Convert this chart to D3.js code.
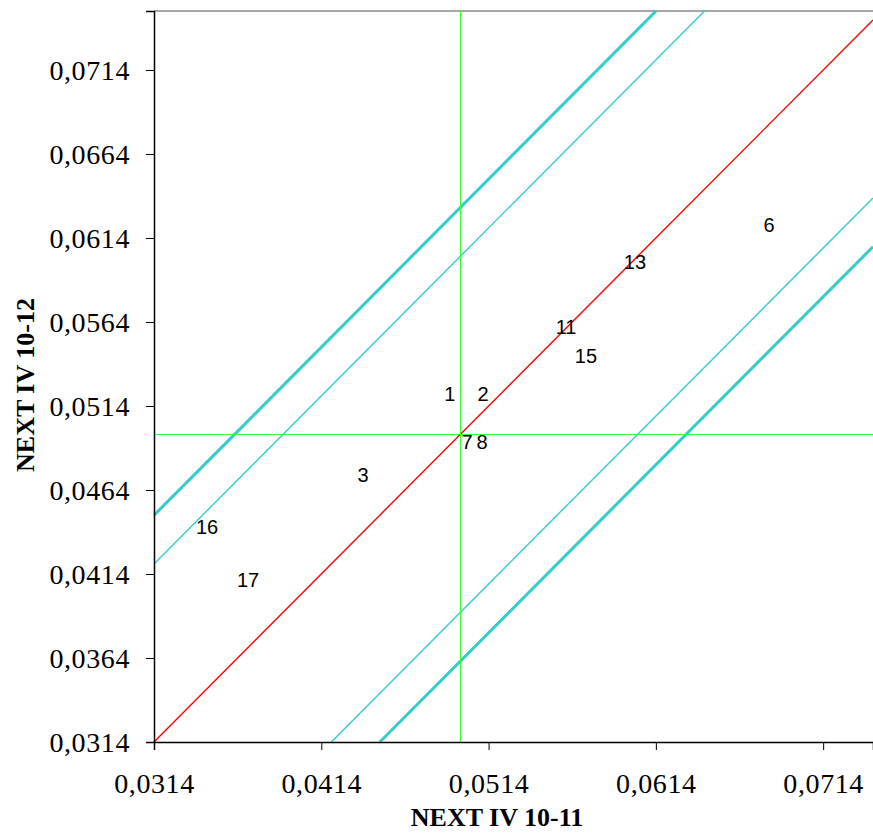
<!DOCTYPE html>
<html>
<head>
<meta charset="utf-8">
<script src="https://cdn.jsdelivr.net/npm/d3@7"></script>
<style>
  body { margin: 0; background: #fff; }
  svg { display: block; }
</style>
</head>
<body>
<div id="chart"></div>
<script>
const labels = ["1", "2", "3", "6", "7", "8", "11", "13", "15", "16", "17"];
const xValues = [0.04909, 0.05107, 0.04389, 0.06816, 0.05011, 0.05101, 0.05603, 0.06015, 0.05722, 0.03457, 0.03702];
const yValues = [0.05211, 0.05211, 0.04729, 0.06217, 0.04926, 0.04926, 0.05610, 0.05997, 0.05438, 0.04420, 0.04104];
const xTicks = [0.0314, 0.0414, 0.0514, 0.0614, 0.0714];
const yTicks = [0.0314, 0.0364, 0.0414, 0.0464, 0.0514, 0.0564, 0.0614, 0.0664, 0.0714];
const meanX = 0.04970;
const meanY = 0.04972;
// band offsets around y = x
const innerOffset = 0.0106;
const outerOffset = 0.0135;

const width = 873, height = 834;
const margin = { top: 11, right: 0, bottom: 92, left: 154 };
const innerWidth = width - margin.left - margin.right;
const innerHeight = height - margin.top - margin.bottom;

const xDomain = [0.0314, 0.07438];
const yDomain = [0.0314, 0.07491];

const svg = d3.select("#chart")
  .append("svg")
  .attr("width", width)
  .attr("height", height);

const xScale = d3.scaleLinear()
  .domain(xDomain)
  .range([margin.left, margin.left + innerWidth]);

const yScale = d3.scaleLinear()
  .domain(yDomain)
  .range([margin.top + innerHeight, margin.top]);

// top border
svg.append("line")
  .attr("x1", margin.left).attr("x2", width)
  .attr("y1", margin.top).attr("y2", margin.top)
  .attr("stroke", "#888").attr("stroke-width", 1.5);

const diagLines = [
  { off: 0, color: "#ff0000", w: 1.4 },
  { off: innerOffset, color: "#33cccc", w: 1.4 },
  { off: -innerOffset, color: "#33cccc", w: 1.4 },
  { off: outerOffset, color: "#33cccc", w: 3 },
  { off: -outerOffset, color: "#33cccc", w: 3 }
];

// clip y = x + off to the plot domain
function segment(off) {
  const x0 = Math.max(xDomain[0], yDomain[0] - off);
  const x1 = Math.min(xDomain[1], yDomain[1] - off);
  return [[x0, x0 + off], [x1, x1 + off]];
}

svg.selectAll(".diag")
  .data(diagLines)
  .enter()
  .append("line")
  .attr("class", "diag")
  .attr("x1", d => xScale(segment(d.off)[0][0]))
  .attr("y1", d => yScale(segment(d.off)[0][1]))
  .attr("x2", d => xScale(segment(d.off)[1][0]))
  .attr("y2", d => yScale(segment(d.off)[1][1]))
  .attr("stroke", d => d.color)
  .attr("stroke-width", d => d.w);

// mean lines
svg.append("line")
  .attr("x1", xScale(meanX)).attr("x2", xScale(meanX))
  .attr("y1", margin.top).attr("y2", margin.top + innerHeight)
  .attr("stroke", "#33ff33").attr("stroke-width", 1)
  .attr("shape-rendering", "crispEdges");

svg.append("line")
  .attr("x1", margin.left).attr("x2", margin.left + innerWidth)
  .attr("y1", yScale(meanY)).attr("y2", yScale(meanY))
  .attr("stroke", "#33ff33").attr("stroke-width", 1)
  .attr("shape-rendering", "crispEdges");

const fmt = d => d3.format(".4f")(d).replace(".", ",");

// axes
const xAxis = svg.append("g")
  .attr("transform", `translate(0, ${margin.top + innerHeight})`)
  .call(d3.axisBottom(xScale).tickValues(xTicks).tickSize(8).tickPadding(23).tickFormat(fmt));

const yAxis = svg.append("g")
  .attr("transform", `translate(${margin.left}, 0)`)
  .call(d3.axisLeft(yScale).tickValues(yTicks).tickSize(8).tickPadding(16).tickFormat(fmt));

[xAxis, yAxis].forEach(g => {
  g.attr("font-size", null).attr("font-family", null);
  g.select(".domain").attr("stroke", "#000").attr("stroke-width", 1.5);
  g.selectAll(".tick line").attr("stroke", "#000");
  g.selectAll("text")
    .attr("fill", "#000")
    .style("font-family", "'Liberation Serif', 'Times New Roman', serif")
    .style("font-size", "28px")
    .style("letter-spacing", "0.6px");
});
yAxis.selectAll("text").attr("dy", "0.33em");

// data labels
svg.selectAll(".pt-label")
  .data(labels.map((l, i) => ({ label: l, x: xValues[i], y: yValues[i] })))
  .enter()
  .append("text")
  .attr("class", "pt-label")
  .attr("x", d => xScale(d.x))
  .attr("y", d => yScale(d.y))
  .attr("text-anchor", "middle")
  .attr("dy", "0.36em")
  .style("font-family", "'Liberation Sans', Arial, sans-serif")
  .style("font-size", "20px")
  .attr("fill", "#000")
  .text(d => d.label);

// axis titles
svg.append("text")
  .attr("x", 497)
  .attr("y", 826)
  .attr("text-anchor", "middle")
  .style("font-family", "'Liberation Serif', 'Times New Roman', serif")
  .style("font-size", "26px")
  .style("font-weight", "bold")
  .text("NEXT IV 10-11");

svg.append("text")
  .attr("transform", `translate(34, 385) rotate(-90)`)
  .attr("text-anchor", "middle")
  .style("font-family", "'Liberation Serif', 'Times New Roman', serif")
  .style("font-size", "26px")
  .style("font-weight", "bold")
  .text("NEXT IV 10-12");
</script>
</body>
</html>
